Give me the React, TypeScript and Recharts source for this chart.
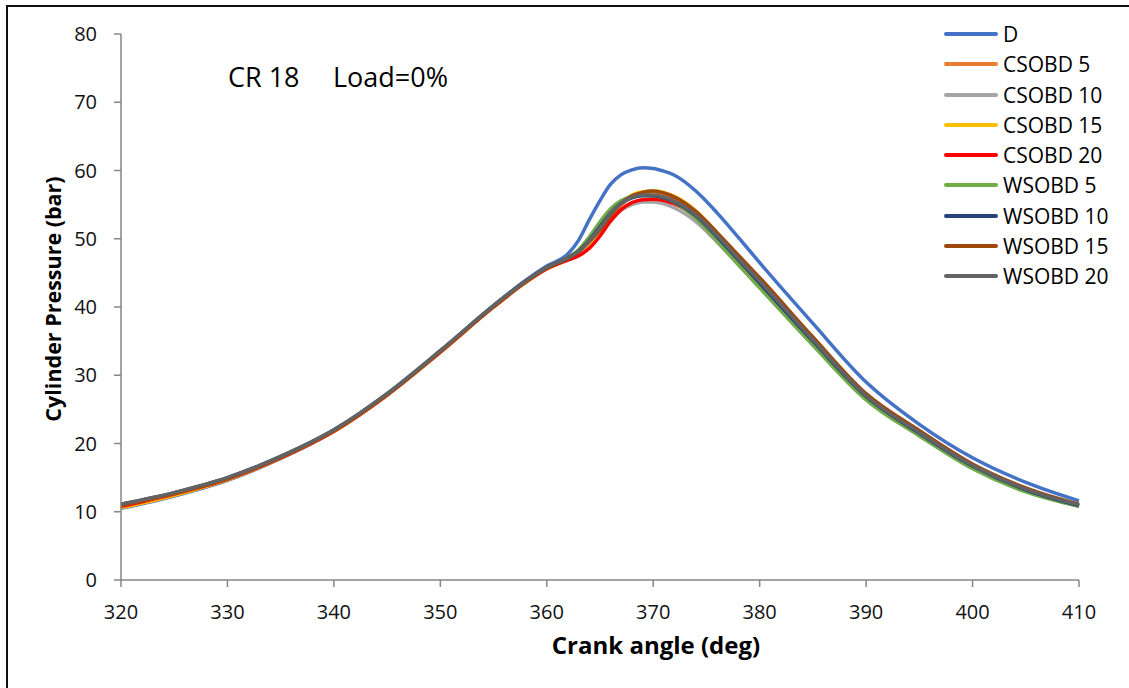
import React from 'react';
import { LineChart, Line, XAxis, YAxis, Legend, Label } from 'recharts';

const angles = [320, 325, 330, 335, 340, 345, 350, 355, 358, 360, 362, 363, 364, 365, 366, 367, 368, 369, 370, 371, 372, 374, 376, 378, 380, 385, 390, 395, 400, 405, 410];

const D = [10.5, 12.3, 14.6, 17.8, 21.8, 27.1, 33.5, 40.2, 43.9, 46.0, 47.8, 49.8, 52.8, 55.6, 58.0, 59.4, 60.1, 60.4, 60.3, 59.9, 59.3, 57.0, 53.8, 50.2, 46.5, 37.6, 29.0, 22.8, 17.9, 14.3, 11.6];
const CSOBD5 = [10.6, 12.4, 14.7, 17.9, 21.8, 27.1, 33.4, 40.0, 43.6, 45.6, 47.0, 47.9, 49.3, 51.1, 53.2, 55.0, 56.2, 56.7, 56.9, 56.6, 56.0, 53.9, 50.7, 47.4, 44.0, 35.4, 27.1, 21.7, 16.8, 13.3, 10.9];
const CSOBD10 = [10.9, 12.6, 14.8, 17.9, 21.8, 27.1, 33.4, 40.0, 43.6, 45.6, 46.9, 47.6, 48.8, 50.6, 52.6, 54.2, 55.0, 55.4, 55.4, 55.1, 54.5, 52.5, 49.5, 46.2, 42.9, 34.5, 26.5, 21.2, 16.4, 13.0, 10.8];
const CSOBD15 = [10.6, 12.4, 14.7, 17.9, 21.8, 27.1, 33.4, 40.0, 43.6, 45.6, 47.0, 48.0, 49.4, 51.3, 53.4, 55.2, 56.4, 56.9, 57.0, 56.8, 56.2, 54.1, 50.9, 47.5, 44.1, 35.5, 27.2, 21.8, 16.9, 13.4, 11.0];
const CSOBD20 = [10.8, 12.6, 14.8, 17.9, 21.8, 27.1, 33.4, 40.0, 43.6, 45.6, 46.9, 47.5, 48.6, 50.4, 52.6, 54.3, 55.3, 55.7, 55.8, 55.6, 55.1, 53.2, 50.2, 46.9, 43.6, 35.1, 26.9, 21.5, 16.7, 13.2, 10.9];
const WSOBD5 = [11.0, 12.7, 14.9, 18.0, 21.9, 27.2, 33.5, 40.1, 43.7, 45.8, 47.3, 48.4, 50.3, 52.5, 54.4, 55.6, 56.2, 56.4, 56.3, 56.0, 55.3, 53.0, 49.7, 46.2, 42.8, 34.4, 26.4, 21.1, 16.3, 12.9, 10.8];
const WSOBD10 = [11.1, 12.8, 15.0, 18.1, 22.0, 27.3, 33.6, 40.2, 43.8, 45.8, 47.2, 48.2, 49.8, 51.8, 53.8, 55.2, 56.0, 56.3, 56.3, 56.0, 55.4, 53.4, 50.3, 46.9, 43.5, 35.0, 26.9, 21.5, 16.7, 13.2, 10.9];
const WSOBD15 = [11.0, 12.7, 14.9, 18.0, 21.9, 27.2, 33.5, 40.1, 43.7, 45.7, 47.2, 48.1, 49.6, 51.3, 53.4, 55.2, 56.3, 56.8, 57.0, 56.7, 56.1, 54.0, 50.9, 47.6, 44.3, 35.6, 27.3, 21.9, 17.0, 13.5, 11.1];
const WSOBD20 = [11.1, 12.8, 15.0, 18.1, 22.0, 27.3, 33.6, 40.2, 43.8, 45.8, 47.2, 48.1, 49.7, 51.6, 53.7, 55.2, 56.1, 56.4, 56.4, 56.1, 55.5, 53.5, 50.5, 47.1, 43.8, 35.2, 27.0, 21.6, 16.8, 13.3, 11.0];

const seriesNames = ['D', 'CSOBD 5', 'CSOBD 10', 'CSOBD 15', 'CSOBD 20', 'WSOBD 5', 'WSOBD 10', 'WSOBD 15', 'WSOBD 20'];
const seriesValues = [D, CSOBD5, CSOBD10, CSOBD15, CSOBD20, WSOBD5, WSOBD10, WSOBD15, WSOBD20];
const seriesColors = ['#4472C4', '#ED7D31', '#A5A5A5', '#FFC000', '#FF0000', '#70AD47', '#264478', '#9E480E', '#636363'];

const xTicks = [320, 330, 340, 350, 360, 370, 380, 390, 400, 410];
const yTicks = [0, 10, 20, 30, 40, 50, 60, 70, 80];

const xTitle = 'Crank angle (deg)';
const yTitle = 'Cylinder Pressure (bar)';
const noteLeft = 'CR 18';
const noteRight = 'Load=0%';

const data = angles.map((a, i) => {
  const row: Record<string, number> = { angle: a };
  seriesNames.forEach((n, k) => {
    row[n] = seriesValues[k][i];
  });
  return row;
});

const FONT = '"Open Sans", "Noto Sans", sans-serif';

const renderLegend = () => (
  <div style={{ fontFamily: FONT }}>
    {seriesNames.map((n, k) => (
      <div key={n} style={{ height: 30.25, display: 'flex', alignItems: 'center', position: 'relative' }}>
        <svg width={60} height={30} style={{ display: 'block' }}>
          <line x1={3} y1={15} x2={53} y2={15} stroke={seriesColors[k]} strokeWidth={4} strokeLinecap="round" />
        </svg>
        <span style={{ fontSize: 21, color: '#000', whiteSpace: 'nowrap', lineHeight: '30px' }}>{n}</span>
      </div>
    ))}
  </div>
);

export default function App() {
  return (
    <div style={{ position: 'fixed', left: 0, top: 0, width: 1129, height: 688, overflow: 'hidden', background: '#fff' }}>
      <div style={{ position: 'absolute', left: 6, top: 5, width: 1200, height: 800, border: '2px solid #111', boxSizing: 'border-box' }} />
      <div style={{ position: 'absolute', left: 0, top: 0 }}>
        <LineChart width={1129} height={688} data={data} margin={{ top: 34, right: 50, bottom: 78, left: 61 }} style={{ fontFamily: FONT }}>
          <XAxis
            dataKey="angle"
            type="number"
            domain={[320, 410]}
            ticks={xTicks}
            interval={0}
            height={30}
            tickSize={7}
            tickMargin={18}
            axisLine={{ stroke: '#868686', strokeWidth: 1.5 }}
            tickLine={{ stroke: '#868686', strokeWidth: 1.5 }}
            tick={{ fontSize: 20, fill: '#111' }}
          >
            <Label
              content={(props: any) => {
                const vb = props.viewBox || { x: 121, y: 580, width: 958 };
                return (
                  <text x={vb.x + vb.width / 2 + 56} y={vb.y + 74} textAnchor="middle" fontSize={24} fontWeight="bold" fill="#000" fontFamily={FONT}>
                    {xTitle}
                  </text>
                );
              }}
            />
          </XAxis>
          <YAxis
            type="number"
            domain={[0, 80]}
            ticks={yTicks}
            interval={0}
            width={60}
            tickSize={7}
            tickMargin={17}
            axisLine={{ stroke: '#868686', strokeWidth: 1.5 }}
            tickLine={{ stroke: '#868686', strokeWidth: 1.5 }}
            tick={{ fontSize: 20, fill: '#111' }}
          >
            <Label
              content={(props: any) => {
                const vb = props.viewBox || { x: 61, y: 34, width: 60, height: 546 };
                const cx = 61;
                const cy = vb.y + vb.height / 2 - 8;
                return (
                  <text x={cx} y={cy} textAnchor="middle" fontSize={21.5} fontWeight="bold" fill="#000" fontFamily={FONT} transform={`rotate(-90, ${cx}, ${cy})`}>
                    {yTitle}
                  </text>
                );
              }}
            />
          </YAxis>
          <Legend
            layout="vertical"
            align="center"
            verticalAlign="middle"
            content={renderLegend}
            wrapperStyle={{ left: 943, top: 19, width: 186, height: 275 }}
          />
          {seriesNames.map((n, k) => (
            <Line
              key={n}
              type="monotone"
              dataKey={n}
              stroke={seriesColors[k]}
              strokeWidth={3.5}
              dot={false}
              activeDot={false}
              isAnimationActive={false}
            />
          ))}
        </LineChart>
      </div>
      <svg width={600} height={120} style={{ position: 'absolute', left: 0, top: 0, pointerEvents: 'none' }}>
        <text x={228} y={87} fontSize={27} fill="#000" fontFamily={FONT}>{noteLeft}</text>
        <text x={333} y={87} fontSize={27} fill="#000" fontFamily={FONT}>{noteRight}</text>
      </svg>
    </div>
  );
}
